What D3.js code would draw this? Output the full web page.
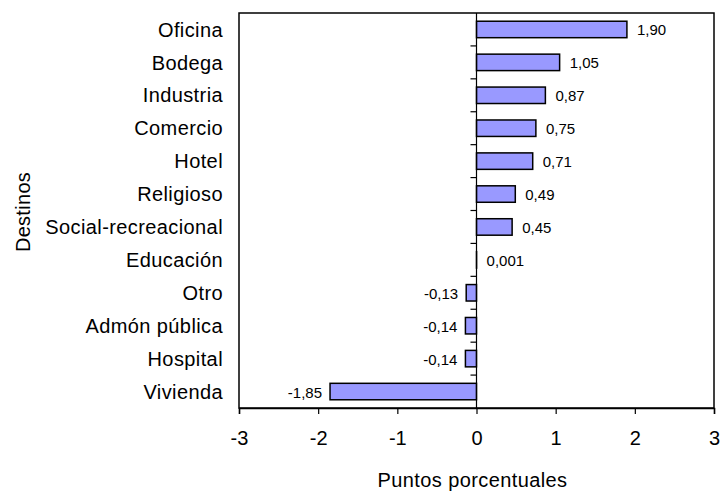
<!DOCTYPE html>
<html>
<head>
<meta charset="utf-8">
<script src="https://cdn.jsdelivr.net/npm/d3@7"></script>
<style>
  body { margin: 0; background: #fff; }
  text { font-family: "Liberation Sans", Arial, sans-serif; fill: #000; }
</style>
</head>
<body>
<div id="chart"></div>
<script>
// categories top to bottom
var categories = ["Oficina", "Bodega", "Industria", "Comercio", "Hotel", "Religioso",
    "Social-recreacional", "Educación", "Otro ", "Admón pública", "Hospital", "Vivienda"];
var values = [1.90, 1.05, 0.87, 0.75, 0.71, 0.49, 0.45, 0.001, -0.13, -0.14, -0.14, -1.85];
var valueLabels = ["1,90", "1,05", "0,87", "0,75", "0,71", "0,49", "0,45", "0,001",
    "-0,13", "-0,14", "-0,14", "-1,85"];
var xTicks = [-3, -2, -1, 0, 1, 2, 3];

var margin = { top: 13, right: 6, bottom: 83, left: 239 };
var width = 720 - margin.left - margin.right;
var height = 491 - margin.top - margin.bottom;

var svg = d3.select("#chart")
    .append("svg")
        .attr("width", 720)
        .attr("height", 491)
    .append("g")
        .attr("transform", "translate(" + margin.left + "," + margin.top + ")");

var xScale = d3.scaleLinear()
    .domain([-3, 3])
    .range([0, width]);

var yScale = d3.scaleBand()
    .domain(categories)
    .range([0, height])
    .paddingInner(0.5)
    .paddingOuter(0.25);

// plot frame
svg.append("rect")
    .attr("x", 0)
    .attr("y", 0)
    .attr("width", width)
    .attr("height", height)
    .attr("fill", "none")
    .attr("stroke", "#000")
    .attr("stroke-width", 1.5);

// bars
svg.append("g")
    .selectAll("rect")
    .data(values)
    .join("rect")
        .attr("x", d => xScale(Math.min(0, d)))
        .attr("y", (d, i) => yScale(categories[i]))
        .attr("width", d => Math.abs(xScale(d) - xScale(0)))
        .attr("height", yScale.bandwidth())
        .attr("fill", "#9999ff")
        .attr("stroke", "#000")
        .attr("stroke-width", 1.5);

// value labels
svg.append("g")
    .selectAll("text")
    .data(values)
    .join("text")
        .attr("x", d => d >= 0 ? xScale(d) + 10 : xScale(d) - 8)
        .attr("y", (d, i) => yScale(categories[i]) + yScale.bandwidth() / 2)
        .attr("dy", "0.4em")
        .style("text-anchor", d => d >= 0 ? "start" : "end")
        .style("font-size", "15px")
        .text((d, i) => valueLabels[i]);

// category axis at zero, ticks between bands
var bounds = d3.range(1, categories.length).map(i => i * height / categories.length);
var yAxisG = svg.append("g").attr("transform", "translate(" + xScale(0) + ",0)");
yAxisG.append("line")
    .attr("x1", 0).attr("x2", 0)
    .attr("y1", 0).attr("y2", height)
    .attr("stroke", "#000")
    .attr("stroke-width", 1.2);
yAxisG.selectAll(".tk")
    .data(bounds)
    .join("line")
        .attr("class", "tk")
        .attr("x1", -6).attr("x2", 0)
        .attr("y1", d => d).attr("y2", d => d)
        .attr("stroke", "#000")
        .attr("stroke-width", 1.2);

// category names on the left side of the plot
svg.append("g")
    .selectAll("text")
    .data(categories)
    .join("text")
        .attr("x", -16)
        .attr("y", d => yScale(d) + yScale.bandwidth() / 2)
        .attr("dy", "0.36em")
        .style("text-anchor", "end")
        .style("font-size", "20px")
        .style("letter-spacing", "0.4px")
        .text(d => d);

// x axis
var xAxis = svg.append("g")
    .attr("transform", "translate(0," + height + ")")
    .call(d3.axisBottom(xScale).tickValues(xTicks).tickSize(6).tickPadding(17).tickFormat(d3.format("d")));
xAxis.select(".domain").attr("stroke-width", 1.5);
xAxis.selectAll("line").attr("stroke-width", 1.2);
xAxis.selectAll("text")
    .style("font-size", "20px")
    .style("font-family", "'Liberation Sans', Arial, sans-serif")
    .text(d => d < 0 ? "-" + Math.abs(d) : d);

// axis titles
svg.append("text")
    .attr("transform", "translate(" + (xScale(0) - 4) + "," + (height + 79) + ")")
    .style("text-anchor", "middle")
    .style("font-size", "20px")
    .style("letter-spacing", "0.4px")
    .text("Puntos porcentuales");

svg.append("text")
    .attr("transform", "rotate(-90)")
    .attr("x", -(212 - margin.top))
    .attr("y", -margin.left + 30)
    .style("text-anchor", "middle")
    .style("font-size", "20px")
    .style("letter-spacing", "0.3px")
    .text("Destinos");
</script>
</body>
</html>
